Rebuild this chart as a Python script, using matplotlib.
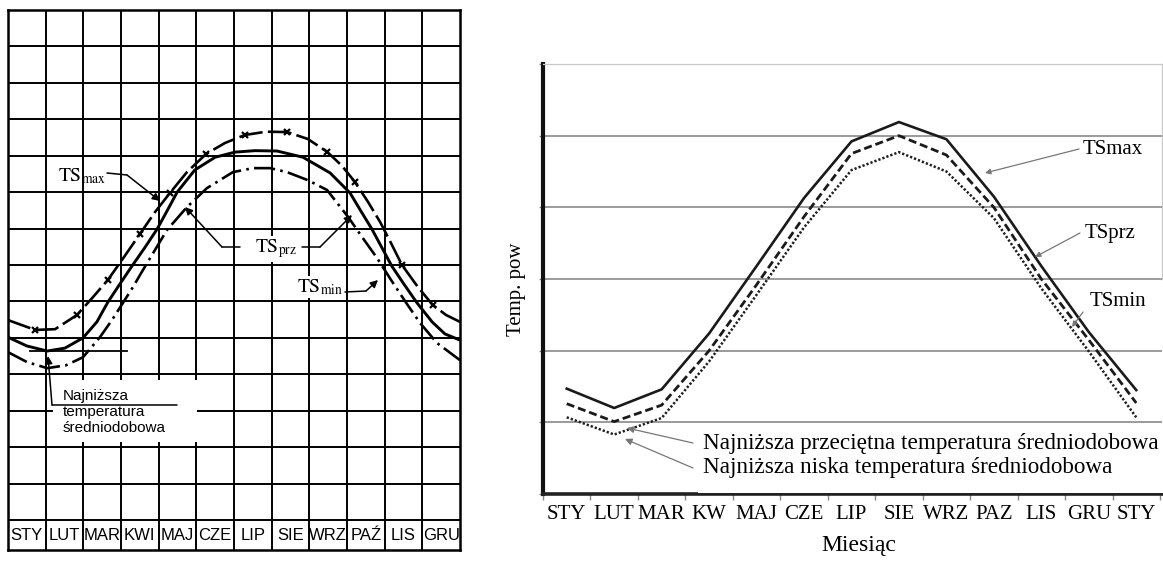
import matplotlib
matplotlib.use('Agg')
import matplotlib.pyplot as plt
from matplotlib.patches import Rectangle
import numpy as np

plt.rcParams['mathtext.fontset'] = 'stix'

# ---------------- Left panel data (month position, grid units) ----------------
left_months = ['STY', 'LUT', 'MAR', 'KWI', 'MAJ', 'CZE', 'LIP', 'SIE', 'WRZ', 'PAŹ', 'LIS', 'GRU']

mid_x = [0, 0.50, 1.04, 1.51, 1.99, 2.36, 2.65, 2.97, 3.29, 3.64, 3.96, 4.22, 4.49, 4.96, 5.50,
         6.03, 6.56, 7.14, 7.83, 8.55, 9.08, 9.37, 9.66, 9.93, 10.19, 10.51, 10.86, 11.26, 11.60, 12.0]
mid_y = [5.02, 4.78, 4.64, 4.72, 5.00, 5.44, 5.98, 6.48, 6.97, 7.49, 7.99, 8.48, 9.00, 9.61, 9.96,
         10.10, 10.14, 10.13, 9.96, 9.53, 8.98, 8.48, 7.99, 7.47, 6.97, 6.48, 5.96, 5.44, 5.11, 4.94]

up_x = [0, 0.72, 1.25, 1.83, 2.23, 2.65, 3.08, 3.50, 3.90, 4.30, 4.75, 5.26, 5.76, 6.29, 6.85,
        7.41, 7.96, 8.47, 8.87, 9.21, 9.56, 9.88, 10.17, 10.46, 10.88, 11.28, 11.63, 12.0]
up_y = [5.49, 5.22, 5.24, 5.63, 6.09, 6.59, 7.22, 7.85, 8.45, 8.98, 9.55, 10.05, 10.35, 10.57, 10.66,
        10.65, 10.46, 10.11, 9.72, 9.28, 8.73, 8.18, 7.60, 7.00, 6.40, 5.90, 5.63, 5.44]

low_x = [0, 0.50, 1.04, 1.54, 1.99, 2.44, 2.76, 3.05, 3.32, 3.58, 3.90, 4.22, 4.75, 5.28, 5.97,
         6.50, 6.96, 7.41, 7.96, 8.47, 9.03, 9.42, 9.80, 10.17, 10.56, 10.94, 11.39, 12.0]
low_y = [4.61, 4.34, 4.17, 4.25, 4.47, 5.02, 5.49, 5.96, 6.40, 6.86, 7.41, 7.96, 8.59, 9.11, 9.55,
         9.66, 9.66, 9.55, 9.33, 9.06, 8.32, 7.74, 7.19, 6.59, 5.98, 5.41, 4.86, 4.39]

# ---------------- Right panel data ----------------
right_months = ['STY', 'LUT', 'MAR', 'KW', 'MAJ', 'CZE', 'LIP', 'SIE', 'WRZ', 'PAZ', 'LIS', 'GRU', 'STY']
ts_max = [1.47, 1.20, 1.46, 2.24, 3.18, 4.13, 4.92, 5.19, 4.95, 4.15, 3.18, 2.26, 1.45]
ts_prz = [1.26, 1.01, 1.24, 2.00, 2.92, 3.87, 4.75, 5.00, 4.73, 4.00, 3.00, 2.15, 1.27]
ts_min = [1.07, 0.83, 1.06, 1.85, 2.78, 3.72, 4.52, 4.77, 4.50, 3.85, 2.87, 1.99, 1.07]

W, H = 1163, 562
fig = plt.figure(figsize=(W / 100, H / 100), dpi=100)
fig.patch.set_facecolor('white')


def fp(x, y):
    """reference pixel (from top-left) -> figure pixels"""
    return (x, H - y)


# ================= LEFT PANEL =================
ax1 = fig.add_axes([8 / W, 12 / H, 452 / W, 540 / H])
ax1.set_xlim(0, 12)
ax1.set_ylim(-0.82, 14)
ax1.set_xticks([])
ax1.set_yticks([])
for s in ax1.spines.values():
    s.set_linewidth(1.8)
    s.set_color('black')
for gx in range(1, 12):
    ax1.axvline(gx, color='black', lw=1.4, zorder=1)
for gy in range(0, 14):
    ax1.axhline(gy, color='black', lw=1.4, zorder=1)

# white patch behind the text block
ax1.add_patch(Rectangle((1.19, 2.14), 3.83, 1.70, facecolor='white', edgecolor='none', zorder=2))

ax1.plot(mid_x, mid_y, color='black', lw=2.1, zorder=3, solid_joinstyle='round')
ax1.plot(up_x, up_y, color='black', lw=1.9, dashes=(9, 2), zorder=3,
         marker='x', markersize=5, markeredgewidth=1.6,
         markevery=[1, 3, 5, 7, 9, 11, 13, 15, 17, 19, 23, 25])
ax1.plot(low_x, low_y, color='black', lw=1.9, dashes=(8, 2, 1, 2), zorder=3)

for i, m in enumerate(left_months):
    ax1.text(i + 0.5, -0.41, m, ha='center', va='center', fontsize=12,
             family='Liberation Sans', zorder=4)

# minimum marker line
ymin_mid = min(mid_y)
ax1.plot([0.58, 3.16], [ymin_mid, ymin_mid], color='black', lw=1.3, zorder=3)

arr = dict(arrowstyle='-|>', color='black', lw=1.1, mutation_scale=11, shrinkA=0, shrinkB=0)
seg = dict(arrowstyle='-', color='black', lw=1.1, shrinkA=0, shrinkB=0)

# TS max
fig.text(58 / W, 1 - 176 / H, r'TS$_{\mathrm{max}}$', fontsize=14, family='STIXGeneral',
         ha='left', va='center')
fig.add_artist(plt.Annotation('', xy=fp(127, 175), xytext=fp(107, 173), xycoords='figure pixels',
                              textcoords='figure pixels', arrowprops=seg))
fig.add_artist(plt.Annotation('', xy=fp(160, 201), xytext=fp(127, 175), xycoords='figure pixels',
                              textcoords='figure pixels', arrowprops=arr))
# TS prz
fig.text(276 / W, 1 - 249 / H, r'TS$_{\mathrm{prz}}$', fontsize=14, family='STIXGeneral',
         ha='center', va='center', bbox=dict(facecolor='white', edgecolor='none', pad=1))
fig.add_artist(plt.Annotation('', xy=fp(222, 247), xytext=fp(240, 247), xycoords='figure pixels',
                              textcoords='figure pixels', arrowprops=seg))
fig.add_artist(plt.Annotation('', xy=fp(185, 207), xytext=fp(222, 247), xycoords='figure pixels',
                              textcoords='figure pixels', arrowprops=arr))
fig.add_artist(plt.Annotation('', xy=fp(320, 247), xytext=fp(302, 247), xycoords='figure pixels',
                              textcoords='figure pixels', arrowprops=seg))
fig.add_artist(plt.Annotation('', xy=fp(352, 215), xytext=fp(320, 247), xycoords='figure pixels',
                              textcoords='figure pixels', arrowprops=arr))
# TS min
fig.text(320 / W, 1 - 287 / H, r'TS$_{\mathrm{min}}$', fontsize=14, family='STIXGeneral',
         ha='center', va='center', bbox=dict(facecolor='white', edgecolor='none', pad=1))
fig.add_artist(plt.Annotation('', xy=fp(366, 291), xytext=fp(345, 292), xycoords='figure pixels',
                              textcoords='figure pixels', arrowprops=seg))
fig.add_artist(plt.Annotation('', xy=fp(378, 280), xytext=fp(366, 291), xycoords='figure pixels',
                              textcoords='figure pixels', arrowprops=arr))
# Najniższa temperatura
fig.text(63 / W, 1 - 412 / H, 'Najniższa\ntemperatura\nśredniodobowa', fontsize=11,
         family='Liberation Sans', ha='left', va='center', linespacing=1.15)
fig.add_artist(plt.Annotation('', xy=fp(177, 405), xytext=fp(52, 405), xycoords='figure pixels',
                              textcoords='figure pixels', arrowprops=seg))
fig.add_artist(plt.Annotation('', xy=fp(48, 356), xytext=fp(52, 405), xycoords='figure pixels',
                              textcoords='figure pixels', arrowprops=arr))

# ================= RIGHT PANEL =================
ax2 = fig.add_axes([543 / W, 68 / H, 619 / W, 430 / H])
ax2.set_xlim(0, 619 / 47.46)
ax2.set_ylim(0, 6)
xr = np.arange(len(right_months)) + 0.5

ax2.set_yticks(range(0, 7))
ax2.set_yticklabels([])
ax2.yaxis.grid(True, color='#9a9a9a', lw=1.4)
ax2.set_axisbelow(True)
ax2.tick_params(axis='y', length=3, color='#888888', width=1)
ax2.set_xticks(range(0, 14))
ax2.set_xticklabels([])
ax2.set_xticks(xr, minor=True)
ax2.set_xticklabels(right_months, minor=True, fontsize=15, family='Liberation Serif')
ax2.tick_params(axis='x', which='major', length=4, color='#888888', width=1)
ax2.tick_params(axis='x', which='minor', length=0, pad=8)

ax2.spines['left'].set_linewidth(3)
ax2.spines['left'].set_color('#111111')
ax2.spines['bottom'].set_linewidth(2.6)
ax2.spines['bottom'].set_color('#222222')
for k in ('top', 'right'):
    ax2.spines[k].set_linewidth(0.9)
    ax2.spines[k].set_color('#c8c8c8')
    ax2.spines[k].set_linestyle((0, (2, 1)))
ax2.spines['right'].set_bounds(3, 6)

ax2.plot(xr, ts_max, color='#1a1a1a', lw=1.9, zorder=3)
ax2.plot(xr, ts_prz, color='#1a1a1a', lw=2.0, dashes=(2.9, 1.4), zorder=3)
ax2.plot(xr, ts_min, color='#1e1e1e', lw=1.8, dashes=(0.9, 0.8), zorder=3)

# white box behind bottom text
fig.add_artist(Rectangle((698 / W, (H - 493) / H), (W - 698) / W, 63 / H, transform=fig.transFigure,
                         facecolor='white', edgecolor='none', zorder=2.5))

rf = 'Liberation Serif'
garr = dict(arrowstyle='-|>', color='#777777', lw=0.9, mutation_scale=8, shrinkA=0, shrinkB=0)
darr = dict(arrowstyle='-|>', color='#777777', lw=0.9, mutation_scale=10, shrinkA=0, shrinkB=0)

fig.text(1083 / W, 1 - 149 / H, 'TSmax', fontsize=15, family=rf, ha='left', va='center',
         bbox=dict(facecolor='white', edgecolor='none', pad=2))
fig.add_artist(plt.Annotation('', xy=fp(985, 173), xytext=fp(1079, 149), xycoords='figure pixels',
                              textcoords='figure pixels', arrowprops=garr))
fig.text(1085 / W, 1 - 233 / H, 'TSprz', fontsize=15, family=rf, ha='left', va='center')
fig.add_artist(plt.Annotation('', xy=fp(1035, 257), xytext=fp(1080, 233), xycoords='figure pixels',
                              textcoords='figure pixels', arrowprops=garr))
fig.text(1090 / W, 1 - 301 / H, 'TSmin', fontsize=15, family=rf, ha='left', va='center')
fig.add_artist(plt.Annotation('', xy=fp(1072, 327), xytext=fp(1083, 312), xycoords='figure pixels',
                              textcoords='figure pixels', arrowprops=garr))

t1 = fig.text(703 / W, 1 - 444 / H, 'Najniższa przeciętna temperatura średniodobowa', fontsize=16.7,
              family=rf, ha='left', va='center', zorder=3)
t2 = fig.text(703 / W, 1 - 468 / H, 'Najniższa niska temperatura średniodobowa', fontsize=16.7,
              family=rf, ha='left', va='center', zorder=3)
a1 = plt.Annotation('', xy=fp(627, 428), xytext=fp(693, 443), xycoords='figure pixels',
                    textcoords='figure pixels', arrowprops=darr)
a2 = plt.Annotation('', xy=fp(625, 439), xytext=fp(693, 468), xycoords='figure pixels',
                    textcoords='figure pixels', arrowprops=darr)
a1.set_zorder(3)
a2.set_zorder(3)
fig.add_artist(a1)
fig.add_artist(a2)

fig.text(859 / W, 1 - 545 / H, 'Miesiąc', fontsize=17, family=rf, ha='center', va='center')
fig.text(516 / W, 1 - 289 / H, 'Temp. pow', fontsize=15, family=rf, ha='center', va='center',
         rotation=90)

fig.savefig('out.png', dpi=100, facecolor='white')
